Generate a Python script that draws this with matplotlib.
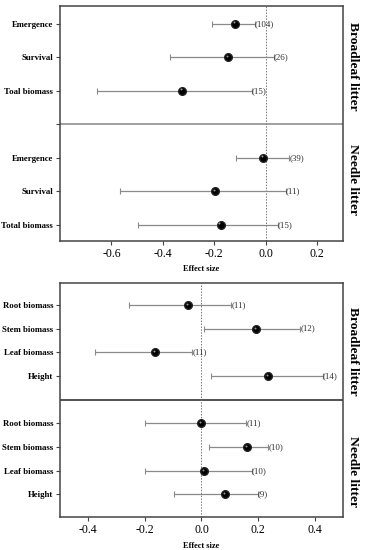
import matplotlib.pyplot as plt

plt.rcParams['font.family'] = 'Liberation Serif'

# ---- top panel data (emergence / survival / biomass) ----
top_labels = ['Emergence', 'Survival', 'Toal biomass', '',
              'Emergence', 'Survival', 'Total biomass']
top_mean = [-0.119, -0.148, -0.326, None, -0.010, -0.198, -0.176]
top_low = [-0.209, -0.372, -0.657, None, -0.117, -0.566, -0.497]
top_high = [-0.043, 0.032, -0.054, None, 0.091, 0.078, 0.047]
top_n = ['(104)', '(26)', '(15)', None, '(39)', '(11)', '(15)']

# ---- bottom panel data (growth traits) ----
bot_labels = ['Root biomass', 'Stem biomass', 'Leaf biomass', 'Height', '',
              'Root biomass', 'Stem biomass', 'Leaf biomass', 'Height']
bot_mean = [-0.047, 0.193, -0.163, 0.236, None, 0.000, 0.160, 0.008, 0.084]
bot_low = [-0.256, 0.010, -0.376, 0.035, None, -0.198, 0.028, -0.201, -0.096]
bot_high = [0.106, 0.349, -0.033, 0.429, None, 0.159, 0.236, 0.177, 0.200]
bot_n = ['(11)', '(12)', '(11)', '(14)', None, '(11)', '(10)', '(10)', '(9)']

fig = plt.figure(figsize=(3.68, 5.5), dpi=100)
ax1 = fig.add_axes([0.163, 0.562, 0.769, 0.427])
ax2 = fig.add_axes([0.163, 0.0594, 0.769, 0.4266])


def draw_panel(ax, labels, mean, low, high, ns, div_color, div_tick):
    ys = list(range(1, len(labels) + 1))
    span = ax.get_xlim()[1] - ax.get_xlim()[0]
    for y, m, lo, hi, n in zip(ys, mean, low, high, ns):
        if m is None:
            continue
        ax.errorbar(m, y, xerr=[[m - lo], [hi - m]], fmt='none',
                    ecolor='#8a8a8a', elinewidth=0.9, capsize=2.5,
                    capthick=0.8, zorder=2)
        ax.plot(m, y, 'o', color='black', markersize=5.5,
                markeredgecolor='#222222', zorder=3)
        ax.plot(m - 0.004 * span, y - 0.04, 'o', color='#9a9a9a',
                markersize=1.4, markeredgewidth=0, zorder=4)
        ax.text(hi, y, n, fontsize=6.5, va='center', ha='left', color='#333333')
    div = labels.index('') + 1
    ax.axhline(div, color=div_color, linewidth=1.1, zorder=1)
    ax.axvline(0, color='#777777', linestyle=(0, (1.5, 1.5)), linewidth=0.7, zorder=1)
    if div_tick:
        ax.set_yticks(ys)
        ax.set_yticklabels(labels, fontweight='bold', fontsize=6.3)
    else:
        keep = [y for y, l in zip(ys, labels) if l]
        ax.set_yticks(keep)
        ax.set_yticklabels([l for l in labels if l], fontweight='bold', fontsize=6.3)
    ax.tick_params(axis='y', length=3, width=0.8, color='#444444', pad=2)
    ax.tick_params(axis='x', length=3, width=0.8, color='#444444', labelsize=8.5, pad=2)
    for s in ax.spines.values():
        s.set_color('#444444')
        s.set_linewidth(1.1)
    ax.set_xlabel('Effect size', fontweight='bold', fontsize=6, labelpad=4)


ax1.set_xlim(-0.8, 0.3)
ax1.set_ylim(7.48, 0.47)
draw_panel(ax1, top_labels, top_mean, top_low, top_high, top_n, '#888888', True)
ax1.set_xticks([-0.6, -0.4, -0.2, 0.0, 0.2])
ax1.set_xticklabels(['-0.6', '-0.4', '-0.2', '0.0', '0.2'])

ax2.set_xlim(-0.5, 0.5)
ax2.set_ylim(9.97, 0.06)
draw_panel(ax2, bot_labels, bot_mean, bot_low, bot_high, bot_n, '#222222', False)
ax2.set_xticks([-0.4, -0.2, 0.0, 0.2, 0.4])
ax2.set_xticklabels(['-0.4', '-0.2', '0.0', '0.2', '0.4'])

# side group labels
side = dict(rotation=-90, fontsize=9.7, fontweight='bold', ha='center', va='center')
fig.text(0.958, 1 - 66 / 550, 'Broadleaf litter', **side)
fig.text(0.958, 1 - 180 / 550, 'Needle litter', **side)
fig.text(0.958, 1 - 351 / 550, 'Broadleaf litter', **side)
fig.text(0.958, 1 - 472 / 550, 'Needle litter', **side)

fig.savefig('out.png', dpi=100, facecolor='white')
